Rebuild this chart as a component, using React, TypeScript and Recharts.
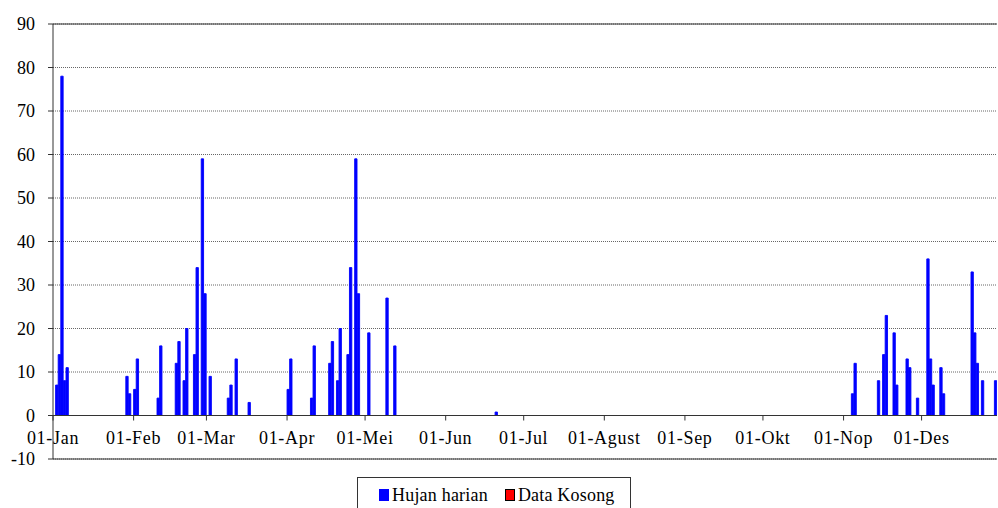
import { Bar, BarChart, CartesianGrid, ReferenceLine, XAxis, YAxis } from "recharts";

if (typeof document !== "undefined") document.body.style.margin = "0";

// day of year (1 = 1 Jan) and daily rainfall in mm
const rainDays = [
  2, 3, 4, 5, 6,
  29, 30, 32, 33,
  41, 42, 48, 49, 51, 52,
  55, 56, 58, 59, 61,
  68, 69, 71, 76,
  91, 92, 100, 101,
  107, 108, 110, 111,
  114, 115, 117, 118,
  122, 129, 132,
  171,
  308, 309, 318, 320, 321, 324, 325, 329, 330, 333,
  337, 338, 339, 342, 343,
  354, 355, 356, 358, 363,
];
const rainMm = [
  7, 14, 78, 8, 11,
  9, 5, 6, 13,
  4, 16, 12, 17, 8, 20,
  14, 34, 59, 28, 9,
  4, 7, 13, 3,
  6, 13, 4, 16,
  12, 17, 8, 20,
  14, 34, 59, 28,
  19, 27, 16,
  0.8,
  5, 12, 8, 14, 23, 19, 7, 13, 11, 4,
  36, 13, 7, 11, 5,
  33, 19, 12, 8, 8,
];

const monthStarts = [1, 32, 60, 91, 121, 152, 182, 213, 244, 274, 305, 335];
const monthLabels = [
  "01-Jan", "01-Feb", "01-Mar", "01-Apr", "01-Mei", "01-Jun",
  "01-Jul", "01-Agust", "01-Sep", "01-Okt", "01-Nop", "01-Des",
];
const yTicks = [-10, 0, 10, 20, 30, 40, 50, 60, 70, 80, 90];

const BLUE = "#0000ff";
const RED = "#ff0000";
const AXIS = "#333";
const FONT = '"Liberation Serif", "Times New Roman", serif';

const W = 998;
const H = 508;
const MARGIN = { top: 24, right: 1, left: 8, bottom: 19 };
const X_AXIS_H = 30;
const Y_MIN = -10;
const Y_MAX = 90;
const PLOT_H = H - MARGIN.top - MARGIN.bottom - X_AXIS_H;
// month labels hang from the zero line, not from the bottom of the plot
const ZERO_SHIFT = (PLOT_H * (0 - Y_MIN)) / (Y_MAX - Y_MIN);

const data = rainDays.map((d, i) => ({ x: d - 0.5, hujan: rainMm[i] }));
const tickPos = monthStarts.map((d) => d - 1);

function MonthTick(props: any) {
  const { x, y, payload } = props;
  const y0 = y - ZERO_SHIFT;
  const idx = tickPos.indexOf(payload.value);
  return (
    <g>
      <line x1={x} x2={x} y1={y0} y2={y0 + 5} stroke={AXIS} />
      <text
        x={x}
        y={y0 + 16}
        dy="0.71em"
        textAnchor="middle"
        fontSize={18}
        fontFamily={FONT}
        letterSpacing={0.7}
        fill="#000"
      >
        {monthLabels[idx]}
      </text>
    </g>
  );
}

function LegendBox() {
  const item = { display: "flex", alignItems: "center" } as const;
  return (
    <div
      style={{
        position: "absolute",
        left: 357,
        top: 477,
        width: 274,
        height: 36,
        border: `1px solid ${AXIS}`,
        background: "#fff",
        boxSizing: "border-box",
        display: "flex",
        alignItems: "flex-start",
        paddingTop: 8,
        paddingLeft: 21,
        fontFamily: FONT,
        fontSize: 18,
        letterSpacing: 0.2,
        color: "#000",
        lineHeight: "18px",
      }}
    >
      <div style={item}>
        <span style={{ width: 10, height: 12, background: BLUE, marginRight: 3 }} />
        Hujan harian
      </div>
      <div style={{ ...item, marginLeft: 17 }}>
        <span
          style={{
            width: 8,
            height: 10,
            background: RED,
            border: "1px solid #000",
            marginRight: 3,
          }}
        />
        Data Kosong
      </div>
    </div>
  );
}

export default function App() {
  return (
    <div style={{ position: "relative", width: W, height: H, background: "#fff", overflow: "hidden" }}>
      <BarChart width={W} height={H} data={data} margin={MARGIN}>
        <CartesianGrid
          horizontal
          vertical={false}
          stroke="#666"
          strokeDasharray="1 1"
        />
        <XAxis
          dataKey="x"
          type="number"
          domain={[0, 363]}
          ticks={tickPos}
          interval={0}
          height={X_AXIS_H}
          tickSize={0}
          tickMargin={0}
          tickLine={false}
          axisLine={{ stroke: AXIS }}
          tick={<MonthTick />}
          allowDataOverflow
        />
        <YAxis
          domain={[Y_MIN, Y_MAX]}
          ticks={yTicks}
          interval={0}
          width={45}
          tickSize={5}
          tickMargin={13}
          axisLine={{ stroke: AXIS }}
          tickLine={{ stroke: AXIS }}
          tick={{ fontSize: 18, fontFamily: FONT, fill: "#000" }}
        />
        <ReferenceLine y={90} stroke={AXIS} strokeWidth={1} />
        <Bar
          dataKey="hujan"
          name="Hujan harian"
          fill={BLUE}
          stroke={BLUE}
          strokeWidth={0.9}
          barSize={3}
          isAnimationActive={false}
        />
        <ReferenceLine y={0} stroke={AXIS} strokeWidth={1} />
      </BarChart>
      <LegendBox />
    </div>
  );
}
